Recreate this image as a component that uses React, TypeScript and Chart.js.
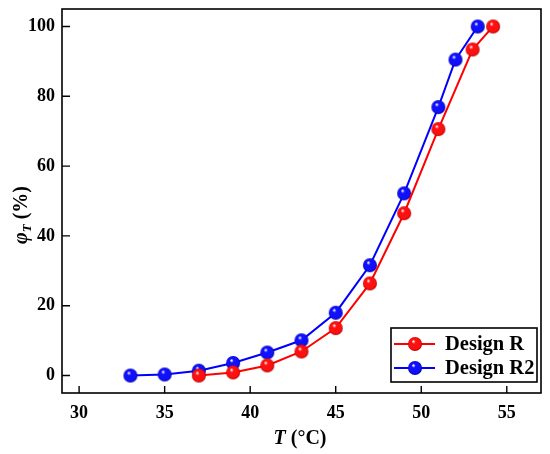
import { useRef, useEffect } from 'react'
import { Chart, registerables } from 'chart.js'

Chart.register(...registerables)

// Design R
const R_T = [37, 39, 41, 43, 45, 47, 49, 51, 53, 54.2]
const R_PHI = [0, 0.9, 2.9, 6.9, 13.6, 26.4, 46.5, 70.6, 93.4, 100]

// Design R2
const R2_T = [33, 35, 37, 39, 41, 43, 45, 47, 49, 51, 52, 53.3]
const R2_PHI = [0, 0.3, 1.4, 3.6, 6.6, 10.1, 18.0, 31.6, 52.2, 76.9, 90.5, 100]

const X_TICKS = [30, 35, 40, 45, 50, 55]
const Y_TICKS = [0, 20, 40, 60, 80, 100]
const SERIES_NAMES = ['Design R', 'Design R2']
const SERIES_COLORS = ['#ff0000', '#0000ff']

const FONT = '"Liberation Serif", "Times New Roman", serif'

function makeSphere(color: string, dark: string, r: number) {
  const size = r * 2 + 2
  const c = document.createElement('canvas')
  c.width = size
  c.height = size
  const g = c.getContext('2d')!
  const cx = size / 2
  const cy = size / 2
  const grad = g.createRadialGradient(cx - r * 0.25, cy - r * 0.4, r * 0.05, cx, cy, r)
  grad.addColorStop(0, '#ffffff')
  grad.addColorStop(0.25, color)
  grad.addColorStop(0.8, color)
  grad.addColorStop(1, dark)
  g.fillStyle = grad
  g.beginPath()
  g.arc(cx, cy, r, 0, Math.PI * 2)
  g.fill()
  return c
}

export default function App() {
  const canvasRef = useRef<HTMLCanvasElement>(null)
  const chartRef = useRef<Chart | null>(null)

  useEffect(() => {
    if (!canvasRef.current) return
    const ctx = canvasRef.current.getContext('2d')
    if (!ctx) return
    if (chartRef.current) chartRef.current.destroy()

    const spheres = [makeSphere('#ff1010', '#b00000', 7), makeSphere('#1010ff', '#0000a0', 7)]

    const decor = {
      id: 'decor',
      afterDraw(chart: Chart) {
        const c = chart.ctx
        const { left, right, top, bottom } = chart.chartArea
        const xs = chart.scales.x
        const ys = chart.scales.y
        c.save()
        c.strokeStyle = '#000'
        c.lineWidth = 1.6
        c.strokeRect(left, top, right - left, bottom - top)
        // inward ticks
        c.lineWidth = 1.4
        c.beginPath()
        X_TICKS.forEach((v) => {
          const px = xs.getPixelForValue(v)
          c.moveTo(px, bottom)
          c.lineTo(px, bottom - 7)
        })
        Y_TICKS.forEach((v) => {
          const py = ys.getPixelForValue(v)
          c.moveTo(left, py)
          c.lineTo(left + 8, py)
        })
        c.stroke()

        // x title
        c.fillStyle = '#000'
        c.textBaseline = 'alphabetic'
        c.font = `italic bold 20px ${FONT}`
        const tW = c.measureText('T').width
        c.font = `bold 20px ${FONT}`
        const restX = ' (\u00B0C)'
        const rW = c.measureText(restX).width
        let x0 = 300 - (tW + rW) / 2
        c.font = `italic bold 20px ${FONT}`
        c.fillText('T', x0, 444)
        c.font = `bold 20px ${FONT}`
        c.fillText(restX, x0 + tW, 444)

        // y title
        c.translate(27, 215)
        c.rotate(-Math.PI / 2)
        c.font = `italic bold 20px ${FONT}`
        const pW = c.measureText('\u03C6').width
        c.font = `italic bold 13px ${FONT}`
        const sW = c.measureText('T').width
        c.font = `bold 20px ${FONT}`
        const restY = ' (%)'
        const ryW = c.measureText(restY).width
        x0 = -(pW + sW + ryW) / 2
        c.font = `italic bold 20px ${FONT}`
        c.fillText('\u03C6', x0, 0)
        c.font = `italic bold 13px ${FONT}`
        c.fillStyle = '#000'
        c.fillText('T', x0 + pW, 4)
        c.font = `bold 20px ${FONT}`
        c.fillText(restY, x0 + pW + sW, 0)
        c.setTransform(1, 0, 0, 1, 0, 0)
        c.restore()

        // legend
        c.save()
        const lx = 391
        const ly = 328
        const lw = 146
        const lh = 54
        c.fillStyle = '#fff'
        c.fillRect(lx, ly, lw, lh)
        c.strokeStyle = '#000'
        c.lineWidth = 1.6
        c.strokeRect(lx, ly, lw, lh)
        const rows = [344, 368]
        SERIES_NAMES.forEach((name, i) => {
          const yy = rows[i]
          c.strokeStyle = SERIES_COLORS[i]
          c.lineWidth = 2
          c.beginPath()
          c.moveTo(lx + 3, yy)
          c.lineTo(lx + 44, yy)
          c.stroke()
          const img = spheres[i]
          c.drawImage(img, lx + 24 - img.width / 2, yy - img.height / 2)
          c.fillStyle = '#000'
          c.font = `bold 20.5px ${FONT}`
          c.textBaseline = 'middle'
          c.fillText(name, lx + 54, yy + 1)
        })
        c.restore()
      },
    }

    chartRef.current = new Chart(ctx, {
      type: 'scatter',
      data: {
        datasets: [
          {
            label: SERIES_NAMES[0],
            data: R_T.map((t, i) => ({ x: t, y: R_PHI[i] })),
            borderColor: SERIES_COLORS[0],
            backgroundColor: SERIES_COLORS[0],
            borderWidth: 2,
            showLine: true,
            pointStyle: spheres[0],
            pointRadius: 7,
          },
          {
            label: SERIES_NAMES[1],
            data: R2_T.map((t, i) => ({ x: t, y: R2_PHI[i] })),
            borderColor: SERIES_COLORS[1],
            backgroundColor: SERIES_COLORS[1],
            borderWidth: 2,
            showLine: true,
            pointStyle: spheres[1],
            pointRadius: 7,
          },
        ],
      },
      options: {
        animation: false,
        responsive: true,
        maintainAspectRatio: false,
        layout: { padding: { top: 7, right: 9, left: 0, bottom: 0 } },
        plugins: {
          legend: { display: false },
          tooltip: { enabled: false },
        },
        scales: {
          x: {
            type: 'linear',
            min: 29,
            max: 57,
            afterBuildTicks: (s: any) => {
              s.ticks = X_TICKS.map((v) => ({ value: v }))
            },
            afterFit: (s: any) => {
              s.height = 61
              s.paddingLeft = 0
              s.paddingRight = 0
            },
            grid: { display: false, drawTicks: false },
            border: { display: false },
            ticks: {
              color: '#000',
              padding: 10,
              maxRotation: 0,
              font: { family: FONT, weight: 'bold', size: 18 },
            },
          },
          y: {
            type: 'linear',
            min: -5,
            max: 105,
            afterBuildTicks: (s: any) => {
              s.ticks = Y_TICKS.map((v) => ({ value: v }))
            },
            afterFit: (s: any) => {
              s.width = 62
              s.paddingTop = 0
              s.paddingBottom = 0
            },
            grid: { display: false, drawTicks: false },
            border: { display: false },
            ticks: {
              color: '#000',
              padding: 7,
              font: { family: FONT, weight: 'bold', size: 18 },
            },
          },
        },
      },
      plugins: [decor],
    })

    return () => {
      chartRef.current?.destroy()
      chartRef.current = null
    }
  }, [])

  return (
    <div style={{ position: 'fixed', left: 0, top: 0, width: 550, height: 454, background: '#fff' }}>
      <canvas ref={canvasRef} />
    </div>
  )
}
